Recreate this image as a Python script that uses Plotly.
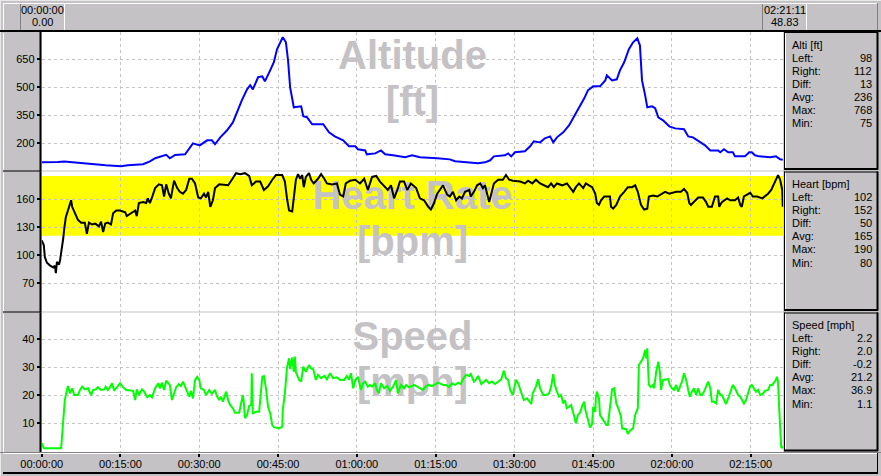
import plotly.graph_objects as go

W, H = 881, 476

# ---------------- data (time in minutes) ----------------
alt_t = [0, 1.6, 3.1, 4.3, 5.4, 6.9, 10.2, 12.2, 15.1, 16.4, 19.3, 20.6, 21.6, 22.9, 23.7, 24.4,
         25.4, 27.3, 28.2, 28.8, 30.1, 31.5, 32.4, 33.0, 34.0, 35.3, 36.4, 37.4, 38.1, 39.1, 39.7,
         40.2, 41.2, 42.0, 42.5, 43.5, 44.2, 44.8, 45.6, 45.9, 46.5, 46.9, 47.3, 47.7, 48.0, 49.4,
         49.8, 50.5, 51.5, 53.6, 54.7, 55.8, 57.4, 58.5, 59.7, 60.2, 61.6, 61.9, 63.5, 64.6, 65.4,
         66.9, 69.2, 70.5, 72.0, 75.3, 77.7, 78.7, 80.6, 83.1, 84.4, 85.4, 86.1, 88.2, 88.8, 89.4,
         90.1, 92.0, 93.0, 93.7, 94.9, 95.8, 96.8, 97.4, 98.1, 99.3, 100.4, 101.5, 102.5, 103.3,
         104.0, 105.0, 106.3, 107.3, 107.6, 108.6, 109.5, 110.1, 110.9, 111.8, 112.6, 113.4, 113.9,
         114.3, 114.9, 115.3, 116.2, 116.8, 117.4, 118.3, 119.5, 120.6, 122.3, 123.1, 124.0, 125.4,
         126.3, 127.3, 128.8, 129.2, 129.9, 130.7, 131.6, 132.0, 133.9, 134.7, 135.2, 135.8, 136.6,
         138.7, 139.8, 140.6, 141.1]
alt_ft = [98, 98, 100, 103, 100, 93, 88, 82, 77, 82, 88, 103, 120, 130, 138, 120,
          138, 141, 179, 200, 189, 216, 216, 195, 232, 270, 312, 388, 430, 489, 511,
          489, 554, 559, 532, 591, 634, 704, 752, 768, 741, 645, 500, 430, 393, 398,
          345, 340, 302, 302, 259, 237, 216, 184, 184, 168, 162, 141, 146, 162, 141,
          136, 125, 136, 125, 120, 114, 104, 98, 93, 98, 109, 130, 136, 146, 130,
          152, 157, 184, 211, 205, 227, 237, 205, 232, 259, 296, 350, 404, 441,
          484, 505, 505, 537, 564, 537, 543, 591, 634, 704, 741, 763, 725,
          537, 457, 393, 398, 388, 339, 323, 291, 280, 275, 237, 232, 205,
          189, 162, 162, 152, 168, 152, 152, 130, 130, 152, 152, 136, 130,
          125, 130, 114, 112]

hr_t = [0, 0.4, 0.6, 1.0, 1.6, 2.2, 2.5, 2.7, 2.9, 3.3, 3.5, 3.9, 4.1, 4.3, 4.6, 5.0, 5.4, 5.6,
        5.8, 6.3, 6.9, 7.5, 8.2, 8.6, 9.0, 9.6, 10.2, 10.9, 11.3, 11.7, 12.1, 12.6, 13.2, 13.6,
        14.2, 14.9, 15.9, 16.2, 17.4, 17.8, 18.1, 18.5, 19.3, 19.9, 20.2, 20.6, 21.0, 21.6, 22.3,
        22.9, 23.3, 23.7, 24.2, 24.6, 25.2, 25.8, 26.3, 26.9, 27.5, 28.1, 28.6, 29.2, 29.8, 30.3,
        30.9, 31.3, 31.7, 32.1, 32.6, 33.0, 33.8, 35.5, 36.2, 37.0, 37.8, 38.7, 39.5, 40.0, 40.8,
        41.6, 42.3, 43.1, 43.9, 44.6, 45.8, 46.3, 46.7, 47.1, 47.7, 48.0, 48.4, 48.8, 49.2, 49.6,
        49.9, 50.3, 50.9, 51.3, 51.8, 52.6, 53.2, 53.8, 54.3, 55.3, 56.2, 56.8, 57.4, 57.9, 58.7,
        59.7, 60.6, 61.4, 62.1, 62.9, 63.7, 64.4, 65.4, 65.9, 66.5, 67.1, 67.7, 68.2, 69.0, 69.6,
        70.3, 71.3, 72.0, 72.8, 73.6, 74.1, 74.7, 75.3, 75.8, 76.4, 77.2, 77.7, 78.3, 78.9, 79.5,
        80.0, 80.6, 81.4, 81.7, 82.3, 82.9, 83.5, 84.0, 84.4, 85.2, 85.7, 86.1, 86.9, 87.8, 88.4,
        89.0, 89.7, 91.1, 92.0, 92.6, 93.4, 94.1, 94.9, 95.8, 96.4, 97.0, 97.5, 98.1, 99.1, 100.0,
        100.6, 101.2, 101.7, 102.3, 103.1, 103.6, 104.2, 104.8, 105.4, 105.7, 106.1, 106.5, 107.1,
        108.2, 108.4, 108.8, 109.4, 110.1, 110.9, 111.6, 112.4, 113.0, 113.5, 114.1, 114.7, 115.3,
        115.6, 116.4, 117.2, 117.9, 118.7, 119.5, 120.2, 120.8, 121.7, 122.3, 122.9, 123.3, 123.6,
        124.2, 125.0, 125.9, 126.5, 126.9, 127.6, 128.2, 128.8, 129.0, 129.5, 130.5, 131.1, 132.0,
        132.6, 133.0, 133.3, 133.7, 134.3, 134.9, 135.4, 136.2, 137.2, 137.7, 138.3, 138.9, 139.6,
        140.0, 140.2, 140.6, 141.0, 141.1]
hr_bpm = [116, 111, 98, 92, 89, 87, 89, 81, 93, 90, 95, 108, 118, 129, 141, 148, 154, 159,
          152, 145, 138, 135, 135, 123, 135, 133, 134, 131, 136, 125, 134, 135, 133, 145,
          148, 148, 146, 142, 147, 148, 142, 156, 157, 156, 161, 156, 162, 172, 176,
          175, 163, 176, 166, 161, 180, 172, 168, 166, 170, 182, 182, 177, 162, 161,
          166, 162, 168, 152, 159, 172, 176, 175, 181, 188, 187, 188, 185, 175, 179,
          179, 170, 174, 181, 186, 186, 179, 161, 148, 147, 161, 181, 187, 182, 186,
          173, 184, 188, 181, 177, 182, 187, 182, 177, 176, 177, 165, 163, 177, 180,
          181, 177, 182, 170, 184, 185, 179, 173, 170, 175, 161, 170, 179, 179, 170,
          177, 172, 161, 159, 152, 149, 156, 166, 170, 175, 165, 163, 168, 159, 163,
          161, 168, 170, 163, 168, 175, 177, 172, 175, 157, 167, 177, 181, 181, 186,
          181, 180, 179, 177, 180, 177, 181, 177, 175, 173, 177, 173, 177, 175, 177,
          173, 168, 173, 177, 172, 177, 175, 173, 166, 156, 154, 159, 163,
          163, 152, 150, 154, 163, 168, 173, 173, 175, 168, 154, 149, 150,
          163, 164, 163, 165, 168, 166, 167, 168, 168, 171, 167, 156, 154,
          157, 162, 162, 157, 152, 152, 163, 163, 152, 157, 161, 159, 159,
          162, 154, 152, 163, 165, 167, 163, 163, 161, 163, 166, 170, 179,
          184, 186, 181, 170, 152]

spd_t = [0, 0.4, 3.7, 3.9, 4.1, 4.4, 4.8, 5.0, 5.4, 5.8, 6.2, 6.9, 7.3, 7.7, 8.2, 8.8, 9.4, 9.8,
         10.3, 10.7, 11.3, 11.9, 12.2, 12.6, 13.0, 13.4, 13.8, 14.3, 14.9, 15.5, 16.1, 17.4, 17.8,
         18.1, 18.5, 19.1, 19.5, 20.1, 20.6, 21.0, 21.6, 22.2, 22.5, 22.9, 23.3, 23.7, 24.1, 24.4,
         24.8, 25.2, 25.6, 26.1, 26.5, 26.9, 27.3, 27.7, 28.1, 28.4, 28.8, 29.2, 29.6, 30.0, 30.3,
         30.9, 31.3, 31.9, 32.4, 33.0, 33.4, 33.8, 34.1, 34.5, 35.1, 35.5, 35.9, 36.4, 36.8, 37.6,
         38.0, 38.3, 38.5, 38.7, 39.1, 39.5, 39.9, 40.0, 40.2, 40.8, 41.4, 41.8, 42.0, 42.3, 42.7,
         43.1, 43.5, 43.9, 44.2, 45.2, 45.8, 45.9, 46.3, 46.7, 47.1, 47.3, 47.7, 48.0, 48.2, 48.4,
         49.0, 49.4, 49.8, 50.3, 50.9, 51.3, 51.7, 52.2, 52.6, 53.2, 53.8, 54.3, 54.9, 55.5, 56.2,
         56.8, 57.6, 58.1, 58.5, 58.9, 59.3, 59.7, 60.2, 60.8, 61.2, 61.6, 62.1, 62.5, 62.9, 63.5,
         63.8, 64.2, 64.6, 65.2, 65.8, 66.3, 66.9, 67.5, 67.8, 68.4, 69.0, 69.4, 69.9, 70.5, 70.9,
         71.5, 72.0, 72.6, 73.2, 73.7, 74.3, 75.5, 76.4, 77.0, 77.6, 78.1, 78.7, 79.3, 79.8, 80.2,
         80.8, 81.4, 81.7, 82.3, 82.7, 83.1, 83.7, 84.2, 84.6, 85.2, 85.7, 86.3, 86.9, 87.5, 88.0,
         88.4, 88.8, 89.2, 89.7, 90.3, 90.7, 91.1, 91.5, 91.8, 92.4, 92.8, 93.2, 93.5, 94.1, 94.5,
         94.9, 95.5, 96.0, 96.6, 97.0, 97.4, 97.7, 98.1, 98.5, 98.9, 99.3, 99.6, 100.0, 100.4,
         100.8, 101.4, 101.7, 102.1, 102.5, 102.9, 103.3, 103.5, 103.8, 104.4, 104.8, 105.0, 105.4,
         105.5, 105.7, 106.1, 106.3, 106.9, 107.5, 107.8, 108.2, 108.6, 109.0, 109.4, 109.9, 110.3,
         110.5, 111.3, 111.6, 112.0, 112.6, 113.0, 113.5, 113.7, 114.1, 114.5, 114.9, 115.1, 115.3,
         115.5, 115.6, 116.0, 116.4, 116.6, 117.0, 117.4, 117.7, 117.9, 118.3, 119.3, 119.6, 120.0,
         120.4, 120.8, 121.2, 121.5, 121.9, 122.3, 122.7, 123.1, 123.4, 123.8, 124.2, 124.6, 125.0,
         125.4, 125.7, 126.1, 126.5, 126.9, 127.3, 127.6, 128.0, 128.4, 128.8, 129.2, 129.5, 129.9,
         130.3, 130.7, 131.3, 131.6, 132.0, 132.6, 133.0, 133.3, 133.7, 134.1, 134.5, 134.9, 135.2,
         135.6, 136.0, 136.4, 136.8, 137.3, 137.7, 138.3, 138.7, 139.1, 139.4, 139.8, 140.0, 140.2,
         140.4, 140.6, 140.8, 141.0, 141.1]
spd_mph = [2.9, 1.1, 1.1, 6.4, 13.0, 18.3, 21.9, 23.3, 20.7, 22.5, 20.1, 20.1, 21.9, 23.1, 22.1,
           22.5, 20.1, 21.9, 22.1, 22.9, 21.9, 22.1, 23.1, 21.9, 22.9, 24.3, 21.6, 22.7, 24.3,
           22.9, 21.9, 21.6, 18.3, 22.1, 20.1, 22.1, 21.3, 19.3, 20.1, 19.3, 22.5, 24.3, 22.5,
           24.5, 21.9, 25.2, 24.3, 23.7, 18.3, 20.7, 22.9, 24.0, 23.3, 24.9, 22.9, 21.3, 19.5,
           21.6, 18.9, 25.5, 26.6, 25.5, 22.5, 21.9, 20.1, 21.9, 20.5, 21.9, 19.5, 18.3, 19.5,
           17.7, 21.3, 18.3, 16.5, 15.4, 13.8, 13.8, 17.1, 20.1, 17.1, 11.8, 13.0, 16.2, 16.5,
           27.9, 13.6, 14.1, 14.1, 24.3, 26.6, 26.9, 22.5, 15.9, 13.6, 9.4, 8.6, 8.2, 8.8, 14.8,
           20.7, 29.9, 33.2, 29.4, 33.5, 28.4, 33.8, 28.3, 25.5, 24.9, 30.2, 28.4, 30.8, 29.6,
           29.3, 25.5, 27.3, 26.1, 26.9, 25.7, 27.9, 26.1, 26.4, 25.5, 25.5, 26.9, 25.5, 27.9,
           22.5, 25.5, 26.6, 21.9, 24.3, 24.9, 23.1, 23.7, 23.1, 24.3, 21.9, 20.7, 24.3, 22.5,
           23.3, 21.6, 23.1, 25.5, 20.7, 23.7, 22.5, 23.7, 22.9, 23.3, 23.7, 23.1, 22.5, 21.9,
           23.3, 23.7, 23.3, 24.5, 23.7, 23.7, 22.9, 24.3, 23.7, 24.5, 24.0, 25.7, 27.3, 26.9,
           27.6, 24.9, 25.7, 26.9, 24.0, 24.9, 25.5, 24.3, 24.9, 24.0, 24.9, 25.7, 28.8, 26.1,
           25.5, 21.9, 20.1, 25.5, 24.3, 21.9, 19.5, 18.3, 18.9, 17.7, 16.9, 20.7, 23.1, 25.7,
           22.5, 20.1, 20.1, 20.7, 23.1, 27.6, 23.7, 21.3, 19.5, 20.1, 17.1, 18.3, 15.4, 15.9,
           16.5, 12.4, 10.0, 13.0, 13.8, 16.2, 17.7, 14.8, 12.4, 8.5, 9.8, 15.9, 14.1, 18.9,
           21.3, 18.9, 13.0, 11.2, 9.4, 9.4, 14.8, 22.1, 22.5, 17.1, 14.8, 12.4, 8.2, 7.9, 6.2,
           7.4, 8.2, 13.0, 15.4, 30.8, 32.0, 33.2, 36.2, 33.2, 36.8, 30.2, 23.7, 22.9, 23.7,
           22.5, 28.4, 32.0, 28.4, 21.9, 25.5, 25.8, 23.7, 22.5, 21.9, 23.7, 21.3, 22.9, 24.9,
           27.9, 25.5, 21.9, 19.5, 21.3, 22.5, 20.1, 22.5, 20.1, 20.1, 21.3, 22.9, 24.9, 22.5,
           17.7, 17.7, 17.1, 21.9, 20.1, 20.1, 18.3, 16.9, 18.9, 21.9, 23.7, 22.5, 20.1, 19.5,
           18.3, 17.1, 18.3, 20.7, 23.3, 23.7, 22.5, 21.3, 21.9, 20.1, 20.5, 21.6, 21.9, 23.7,
           23.7, 24.5, 25.5, 26.6, 24.9, 15.9, 8.8, 1.6, 1.1, 2.0]

t_end = 141.18
time_ticks = [0, 15, 30, 45, 60, 75, 90, 105, 120, 135]
time_labels = ["00:00:00", "00:15:00", "00:30:00", "00:45:00", "01:00:00",
               "01:15:00", "01:30:00", "01:45:00", "02:00:00", "02:15:00"]
alt_ticks = [200, 350, 500, 650]
hr_ticks = [70, 100, 130, 160]
spd_ticks = [10, 20, 30, 40]
hr_zone = [121, 185]

alt_range = [54.3, 796.3]
hr_range = [39.8, 189.8]
spd_range = [-0.25, 49.57]

stat_names = ["Left:", "Right:", "Diff:", "Avg:", "Max:", "Min:"]
alt_stats = ["98", "112", "13", "236", "768", "75"]
hr_stats = ["102", "152", "50", "165", "190", "80"]
spd_stats = ["2.2", "2.0", "-0.2", "21.2", "36.9", "1.1"]
titles = ["Alti [ft]", "Heart [bpm]", "Speed [mph]"]
watermarks = [("Altitude", "[ft]"), ("Heart Rate", "[bpm]"), ("Speed", "[mph]")]
cursor_left = ("00:00:00", "0.00")
cursor_right = ("02:21:11", "48.83")

# ---------------- layout geometry (pixels) ----------------
BG = "#c4c2c4"
WM = "#c4c2c4"
GRID = "#c4c4c4"
FONT = "Arial, Liberation Sans, sans-serif"
PL, PR = 41.7, 783.2
panels = [(32, 170.5), (171.5, 311.5), (312.5, 452)]
ranges = [alt_range, hr_range, spd_range]


def px(x):
    return x / W


def py(y):
    return 1 - y / H


def data_y(i, ypx):
    top, bot = panels[i]
    lo, hi = ranges[i]
    return lo + (hi - lo) * (bot - ypx) / (bot - top)


fig = go.Figure()

colors = ["#0000ff", "#000000", "#00ff00"]
series = [(alt_t, alt_ft), (hr_t, hr_bpm), (spd_t, spd_mph)]
t_mid = 70.6
for i in range(3):
    ax = "" if i == 0 else str(i + 1)
    top, bot = panels[i]
    l1, l2 = watermarks[i]
    fig.add_trace(go.Scatter(
        x=[t_mid, t_mid], y=[data_y(i, top + 27), data_y(i, top + 73)],
        mode="text", text=[l1, l2],
        textfont=dict(size=40, color=WM, family=FONT, weight="bold"),
        textposition="middle center", hoverinfo="skip", showlegend=False,
        xaxis="x" + ax, yaxis="y" + ax))
    fig.add_trace(go.Scatter(
        x=series[i][0], y=series[i][1], mode="lines",
        line=dict(color=colors[i], width=2), hoverinfo="skip", showlegend=False,
        xaxis="x" + ax, yaxis="y" + ax))

layout = dict(
    width=W, height=H, margin=dict(l=0, r=0, t=0, b=0, pad=0), autosize=False,
    paper_bgcolor=BG, plot_bgcolor="#ffffff", showlegend=False,
    font=dict(family=FONT, size=11, color="#000000"),
)
yt = [alt_ticks, hr_ticks, spd_ticks]
for i in range(3):
    ax = "" if i == 0 else str(i + 1)
    top, bot = panels[i]
    layout["xaxis" + ax] = dict(
        domain=[px(PL), px(PR)], range=[0, t_end], anchor="y" + ax,
        tickvals=time_ticks, ticktext=time_labels, automargin=False,
        showticklabels=(i == 2), ticks="outside" if i == 2 else "",
        ticklen=4, tickwidth=2, tickcolor="#000000", ticklabelstandoff=-2,
        tickfont=dict(size=11, family=FONT, color="#000000"),
        showgrid=True, gridcolor=GRID, griddash="3px,3px", gridwidth=1,
        zeroline=False, showline=False, fixedrange=True,
    )
    layout["yaxis" + ax] = dict(
        domain=[py(bot), py(top)], range=ranges[i], anchor="x" + ax,
        tickvals=yt[i], ticks="outside", ticklen=4, tickwidth=2, tickcolor="#000000",
        tickfont=dict(size=11, family=FONT, color="#000000"), automargin=False,
        showgrid=True, gridcolor=GRID, griddash="3px,3px", gridwidth=1,
        zeroline=False, showline=False, fixedrange=True,
    )

shapes = []


def line(x0, y0, x1, y1, color, w=1):
    shapes.append(dict(type="line", xref="paper", yref="paper",
                       x0=px(x0), y0=py(y0), x1=px(x1), y1=py(y1),
                       line=dict(color=color, width=w), layer="above"))


# outer light border
line(0, 0.5, W, 0.5, "#e8e8e8", 1)
line(0.5, 0, 0.5, H, "#e8e8e8", 1)
# top bar
line(3, 3.5, 878, 3.5, "#ffffff", 1)
line(3.5, 3, 3.5, 30, "#ffffff", 1)
line(877.5, 3, 877.5, 30, "#808080", 1)
line(0, 31, W, 31, "#000000", 2)
line(20.5, 4, 20.5, 30, "#808080", 1)
line(64.5, 4, 64.5, 30, "#ffffff", 1)
line(762.5, 4, 762.5, 30, "#808080", 1)
line(806.5, 4, 806.5, 30, "#ffffff", 1)
# left boxes & right boxes
for i, (top, bot) in enumerate(panels):
    line(3.5, top + 1, 3.5, bot, "#ffffff", 1)
    line(40.5, top, 40.5, bot + 1, "#000000", 2)
    line(3, bot + 0.5, 41, bot + 0.5, "#000000", 1)
    line(784.5, top, 784.5, bot - 1, "#000000", 1)
    line(785.5, top, 785.5, bot - 1, "#ffffff", 1)
    line(784, top + 0.5, 878, top + 0.5, "#000000", 1)
    line(877.5, top, 877.5, bot - 1, "#000000", 2)
    line(784, bot - 1.5, 878, bot - 1.5, "#000000", 2)
# bottom bar
line(0, 452.5, W, 452.5, "#808080", 1)
line(3, 453.5, 878, 453.5, "#ffffff", 1)
line(3, 473, 878, 473, "#000000", 2)
line(877.5, 453, 877.5, 473, "#000000", 1)

# heart rate zone
shapes.append(dict(type="rect", xref="x2 domain", yref="y2", x0=0, x1=1,
                   y0=hr_zone[0], y1=hr_zone[1], fillcolor="#ffff00",
                   line=dict(width=0), layer="below"))
layout["shapes"] = shapes

ann = []


def text(x, y, s, anchor="left"):
    ann.append(dict(xref="paper", yref="paper", x=px(x), y=py(y), text=s,
                    showarrow=False, xanchor=anchor, yanchor="middle",
                    font=dict(size=11, family=FONT, color="#000000")))


text(42.5, 10, cursor_left[0], "center")
text(42.5, 22, cursor_left[1], "center")
text(784.5, 10, cursor_right[0], "center")
text(784.5, 22, cursor_right[1], "center")
all_stats = [alt_stats, hr_stats, spd_stats]
for i, (top, bot) in enumerate(panels):
    text(789.5, top + 12.5, titles[i])
    for k, nm in enumerate(stat_names):
        yy = top + 25.5 + 13.1 * k
        text(789.5, yy, nm)
        text(874, yy, all_stats[i][k], "right")
layout["annotations"] = ann

fig.update_layout(**layout)
fig.write_html(
    "out.html",
    config={"displayModeBar": False, "staticPlot": True},
    post_script="document.body.style.margin='0';document.body.style.overflow='hidden';",
)
